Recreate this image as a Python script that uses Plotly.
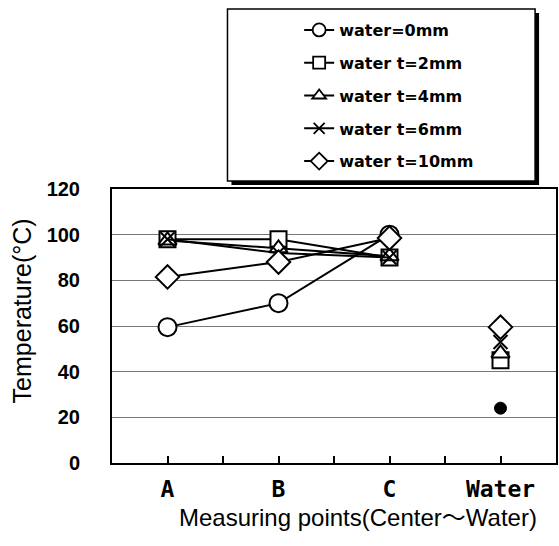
import plotly.graph_objects as go

# ---- data ----
categories = ["A", "B", "C", "Water"]
series_names = ["water=0mm", "water t=2mm", "water t=4mm", "water t=6mm", "water t=10mm"]
water_0mm = [59.5, 70, 100]
water_2mm = [98, 98, 90]
water_4mm = [97.5, 94, 90.5]
water_6mm = [98, 92, 90]
water_10mm = [81.5, 88, 98.5]
# temperatures measured in the water itself
water_point_values = [24, 45, 48, 53, 59.5]

series_values = [water_0mm, water_2mm, water_4mm, water_6mm, water_10mm]
symbols = ["circle", "square", "triangle-up", "x-thin", "diamond"]
sizes = [18, 16, 16, 14, 18]
legend_sizes = [13, 12, 12, 11, 13]

# ---- layout constants (pixels) ----
W, H = 559, 546
L, R, T, B = 112, 1, 189, 83
PW = W - L - R
PH = H - T - B


def px(xp):
    return (xp - L) / PW


def py(yp):
    return (H - B - yp) / PH


x_idx = list(range(len(categories)))

fig = go.Figure()
for i, (name, vals, sym, sz) in enumerate(zip(series_names, series_values, symbols, sizes)):
    fig.add_trace(go.Scatter(
        x=x_idx[:len(vals)], y=vals, name=name, mode="lines+markers",
        legendgroup=name, showlegend=False,
        line=dict(color="black", width=2),
        marker=dict(symbol=sym, size=sz, color="white",
                    line=dict(color="black", width=2)),
    ))

for i, (name, v, sym, sz) in enumerate(zip(series_names, water_point_values, symbols, sizes)):
    if i == 0:
        mk = dict(symbol="circle", size=12, color="black", line=dict(color="black", width=1))
    else:
        mk = dict(symbol=sym, size=sz, color="white", line=dict(color="black", width=2))
    fig.add_trace(go.Scatter(
        x=[x_idx[3]], y=[v], mode="markers", showlegend=False,
        legendgroup=name, marker=mk,
    ))

# legend entries (smaller symbols, as in the reference legend)
for name, sym, lsz in zip(series_names, symbols, legend_sizes):
    fig.add_trace(go.Scatter(
        x=[None], y=[None], name=name, mode="lines+markers", legendgroup=name,
        line=dict(color="black", width=2),
        marker=dict(symbol=sym, size=lsz, color="white",
                    line=dict(color="black", width=1.8)),
    ))

half_ticks = [k / 2 for k in range(0, 2 * (len(categories) - 1) + 1)]
half_text = [categories[int(t)] if t == int(t) else "" for t in half_ticks]

fig.update_layout(
    width=W, height=H,
    margin=dict(l=L, r=R, t=T, b=B, pad=0),
    paper_bgcolor="white", plot_bgcolor="white",
    xaxis=dict(
        range=[-0.5, len(categories) - 0.5],
        tickvals=half_ticks, ticktext=half_text,
        ticks="inside", ticklen=7, tickwidth=1.5, tickcolor="black",
        showline=True, linecolor="black", linewidth=2, mirror=True,
        showgrid=False, zeroline=False,
        tickfont=dict(family="DejaVu Sans Mono", size=23, color="black", weight="bold"),
        ticklabelstandoff=4,
    ),
    yaxis=dict(
        range=[0, 120], dtick=20,
        showgrid=True, gridcolor="#777", gridwidth=1,
        ticks="", showline=True, linecolor="black", linewidth=2, mirror=True,
        zeroline=False,
        tickfont=dict(family="Liberation Sans", size=20, color="black", weight="bold"),
        ticklabelstandoff=26,
    ),
    legend=dict(
        x=px(300), y=py(13), xanchor="left", yanchor="top",
        bgcolor="rgba(0,0,0,0)", borderwidth=0,
        font=dict(family="DejaVu Sans", size=16, color="black", weight="bold"),
        tracegroupgap=9,
    ),
    showlegend=True,
    shapes=[
        dict(type="rect", xref="paper", yref="paper",
             x0=px(232), x1=px(541), y0=py(185), y1=py(13),
             fillcolor="black", line=dict(width=0)),
        dict(type="rect", xref="paper", yref="paper",
             x0=px(228), x1=px(537), y0=py(181), y1=py(9),
             fillcolor="white", line=dict(color="black", width=1.5)),
    ],
    annotations=[
        dict(text="Measuring points(Center〜Water)", xref="paper", yref="paper",
             x=px(359), y=py(517), xanchor="center", yanchor="middle",
             showarrow=False,
             font=dict(family="Liberation Sans, Noto Sans CJK JP", size=24, color="black")),
        dict(text="Temperature(°C)", xref="paper", yref="paper",
             x=px(22), y=py(311), xanchor="center", yanchor="middle",
             textangle=-90, showarrow=False,
             font=dict(family="Liberation Sans", size=25, color="black")),
    ],
)

fig.write_html("out.html")
